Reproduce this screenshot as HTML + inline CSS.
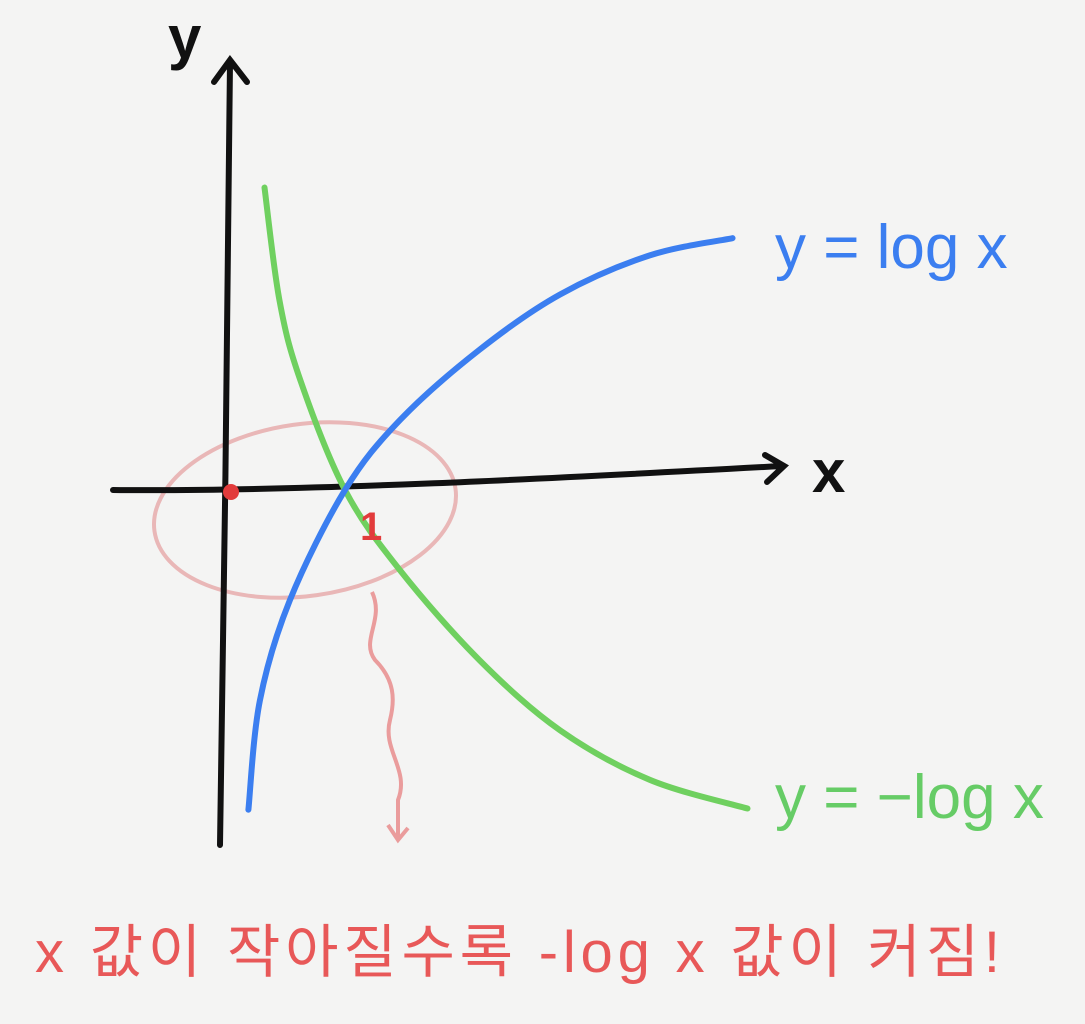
<!DOCTYPE html>
<html><head><meta charset="utf-8"><style>
html,body{margin:0;padding:0;background:#f4f4f3;}
svg{display:block;}
text{font-family:"Liberation Sans","Noto Sans CJK KR",sans-serif;}
</style></head><body>
<svg id="chart" width="1085" height="1024" viewBox="0 0 1085 1024">
<rect width="1085" height="1024" fill="#f4f4f3"/>
<ellipse cx="305" cy="510" rx="152" ry="86" transform="rotate(-8 305 510)" fill="none" stroke="#e9b7b7" stroke-width="4"/>
<path d="M372 592 C385 620,360 640,375 660 C395 680,395 700,390 720 C382 750,410 770,398 800 L398 840 M388 825 L398 840 L408 828" fill="none" stroke="#ea9c9c" stroke-width="4"/>
<path d="M220 845 C224 600,228 300,230 62 M214 82 L230 60 L247 82" fill="none" stroke="#111" stroke-width="6" stroke-linecap="round"/>
<path d="M113 490 C300 492,560 478,782 466 M765 455 L784 466 L767 482" fill="none" stroke="#111" stroke-width="6" stroke-linecap="round"/>
<text x="168" y="58" font-size="60" font-weight="bold" fill="#111">y</text>
<text x="812" y="492" font-size="60" font-weight="bold" fill="#111">x</text>
<g id="series"></g>
<circle cx="231" cy="492" r="8" fill="#e23b3b"/>
<text x="360" y="540" font-size="40" font-weight="bold" fill="#e23b3b">1</text>
<text x="775" y="268" font-size="62" fill="#3b7ef0">y = log x</text>
<text x="775" y="818" font-size="62" fill="#66cc66">y = −log x</text>
<text x="35" y="972" font-size="58" fill="#e85858" textLength="965" lengthAdjust="spacing">x 값이 작아질수록 -log x 값이 커짐!</text>
</svg>
<script>
const blueX=[0.16,0.26,0.52,1,1.48,2.17,2.87,3.65,4.37];
const blueY=[-2.78,-1.83,-0.96,0,0.61,1.22,1.70,2.04,2.19];
const greenX=[0.30,0.43,0.61,1,1.48,2.17,2.87,3.65,4.50];
const greenY=[2.63,1.65,0.96,0,-0.70,-1.48,-2.09,-2.52,-2.77];
function sx(x){return 230+115*x;}
function sy(y){return 490-115*y;}
function pathOf(xs,ys){
  const p=xs.map((x,i)=>[sx(x),sy(ys[i])]);
  let d='M'+p[0][0]+' '+p[0][1];
  for(let i=0;i<p.length-1;i++){
    const p0=p[i-1]||p[i],p1=p[i],p2=p[i+1],p3=p[i+2]||p2;
    const c1=[p1[0]+(p2[0]-p0[0])/6,p1[1]+(p2[1]-p0[1])/6];
    const c2=[p2[0]-(p3[0]-p1[0])/6,p2[1]-(p3[1]-p1[1])/6];
    d+=' C'+c1[0]+' '+c1[1]+','+c2[0]+' '+c2[1]+','+p2[0]+' '+p2[1];
  }
  return d;
}
const g=document.getElementById('series');
const ns='http://www.w3.org/2000/svg';
const gp=document.createElementNS(ns,'path');
gp.setAttribute('d',pathOf(greenX,greenY));
gp.setAttribute('fill','none');gp.setAttribute('stroke','#6fd05f');gp.setAttribute('stroke-width','6');gp.setAttribute('stroke-linecap','round');


g.appendChild(gp);
const bp=document.createElementNS(ns,'path');
bp.setAttribute('d',pathOf(blueX,blueY));
bp.setAttribute('fill','none');bp.setAttribute('stroke','#3b7ef0');bp.setAttribute('stroke-width','6');bp.setAttribute('stroke-linecap','round');


g.appendChild(bp);
</script>
</body></html>
